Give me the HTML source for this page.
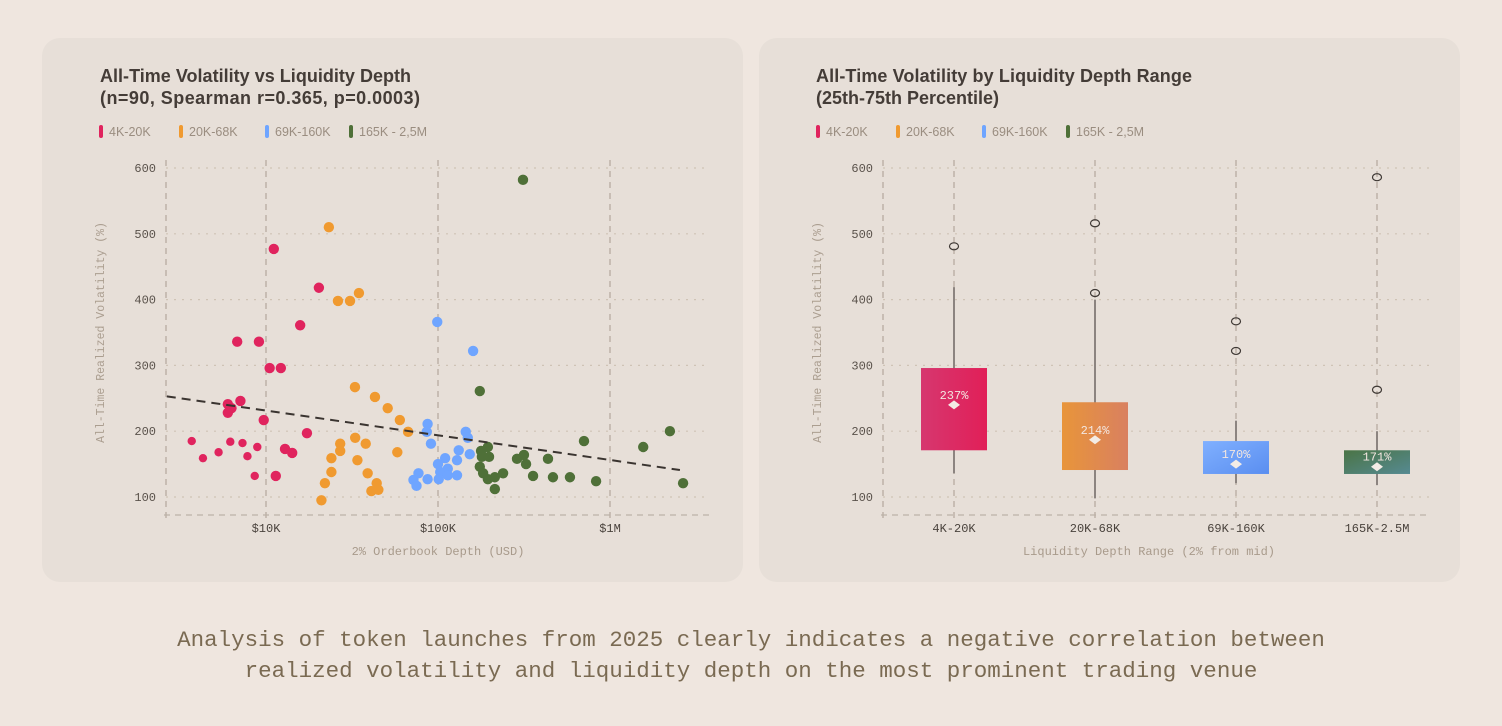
<!DOCTYPE html>
<html><head><meta charset="utf-8">
<style>
html,body{margin:0;padding:0;background:#efe6df;}
svg{display:block;}
text{font-family:"Liberation Sans",sans-serif;}
.mono{font-family:"Liberation Mono",monospace;}
</style></head>
<body>
<svg id="root" width="1502" height="726" viewBox="0 0 1502 726" xmlns="http://www.w3.org/2000/svg">
<defs>
<linearGradient id="g0" x1="0" y1="0" x2="1" y2="0"><stop offset="0" stop-color="#d6376f"/><stop offset="1" stop-color="#e11f58"/></linearGradient>
<linearGradient id="g1" x1="0" y1="0" x2="1" y2="0"><stop offset="0" stop-color="#e8953a"/><stop offset="1" stop-color="#d98060"/></linearGradient>
<linearGradient id="g2" x1="0" y1="0" x2="1" y2="1"><stop offset="0" stop-color="#80b0ff"/><stop offset="1" stop-color="#5a8ef0"/></linearGradient>
<linearGradient id="g3" x1="0" y1="0" x2="1" y2="1"><stop offset="0" stop-color="#4a7445"/><stop offset="1" stop-color="#568a92"/></linearGradient>
</defs>
<rect x="42" y="38" width="701" height="544" rx="18" fill="#e7dfd8"/>
<rect x="759" y="38" width="701" height="544" rx="18" fill="#e7dfd8"/>
<g id="left">
<text x="100" y="82" font-size="18" font-weight="bold" fill="#443c37" textLength="311">All-Time Volatility vs Liquidity Depth</text>
<text x="100" y="104" font-size="18" font-weight="bold" fill="#443c37" textLength="320">(n=90, Spearman r=0.365, p=0.0003)</text>
</g>
<g id="right">
<text x="816" y="82" font-size="18" font-weight="bold" fill="#443c37" textLength="376">All-Time Volatility by Liquidity Depth Range</text>
<text x="816" y="104" font-size="18" font-weight="bold" fill="#443c37">(25th-75th Percentile)</text>
</g>
<text class="mono" x="751" y="646" font-size="22.5" fill="#7a6a52" text-anchor="middle">Analysis of token launches from 2025 clearly indicates a negative correlation between</text>
<text class="mono" x="751" y="677" font-size="22.5" fill="#7a6a52" text-anchor="middle">realized volatility and liquidity depth on the most prominent trading venue</text>
</svg>
<script>
const NS='http://www.w3.org/2000/svg';
const groupNames=['4K-20K','20K-68K','69K-160K','165K - 2,5M'];
const groupColors=['#e0245e','#f09a30','#6fa5ff','#4f7038'];
const redDepthK=[3.7,4.3,5.3,6.2,7.3,7.8,8.9,6.0,6.3,6.0,7.1,9.7,10.5,12.2,6.8,9.1,15.8,20.3,11.1,17.3,12.9,14.2,8.6,11.4];
const redVol=[185,159,168,184,182,162,176,241,235,228,246,217,296,296,336,336,361,418,477,197,173,167,132,132];
const orangeDepthK=[23.2,34.7,26.2,30.8,32.9,43,51,60,67,58,33,38,27,27,24,34,24,39,22,44,41,45,21];
const orangeVol=[510,410,398,398,267,252,235,217,199,168,190,181,181,170,159,156,138,136,121,121,109,111,95];
const blueDepthK=[99,160,87,86,91,145,149,132,153,110,129,100,114,103,129,114,101,87,77,72,75];
const blueVol=[366,322,211,199,181,199,190,171,165,159,156,150,143,138,133,133,127,127,136,126,117];
const greenDepthK=[312,175,706,2230,1560,178,195,180,198,175,183,195,214,239,214,288,316,325,436,357,466,585,830,2660];
const greenVol=[582,261,185,200,176,170,176,161,161,146,136,127,130,136,112,158,164,150,158,132,130,130,124,121];
const trendDepthK=[2.65,2550];
const trendVol=[253,141];
const yTicks=[100,200,300,400,500,600];
const xTickVals=[10000,100000,1000000];
const xTickLabels=['$10K','$100K','$1M'];
const boxCats=['4K-20K','20K-68K','69K-160K','165K-2.5M'];
const boxQ1=[171,141,135,135];
const boxQ3=[296,244,185,171];
const whiskLo=[136,98,121,118];
const whiskHi=[419,400,216,200];
const meanVals=[240,187,150,146];
const meanLabels=['237%','214%','170%','171%'];
const outliers=[[481],[516,410],[367,322],[586,263]];

const root=document.getElementById('root');
function el(tag,attrs,parent,txt){const e=document.createElementNS(NS,tag);for(const k in attrs)e.setAttribute(k,attrs[k]);if(txt!==undefined)e.textContent=txt;(parent||root).appendChild(e);return e;}
const yS=v=>497-(v-100)*0.658;
const xS=d=>266+(Math.log10(d)-4)*172;

function axesY(g,xAxis,x1,x2){
  yTicks.forEach(t=>{
    const l=el('line',{x1:x1,x2:x2,y1:yS(t),y2:yS(t),stroke:'#cfc3b5','stroke-width':1.2,'stroke-dasharray':'2 6'},g);
    
    
    const tx=el('text',{x:xAxis-10,y:yS(t)+4,'font-size':12,fill:'#5a524b','text-anchor':'end',class:'mono'},g,String(t));
    
    
  });
  const a=el('line',{x1:xAxis,x2:xAxis,y1:160,y2:518,stroke:'#bdb2a8','stroke-width':1.5,'stroke-dasharray':'6 5'},g);
  
  
  const b=el('line',{x1:xAxis-2,x2:x2,y1:515,y2:515,stroke:'#bdb2a8','stroke-width':1.2,'stroke-dasharray':'6 5'},g);
  
  
  const yt=el('text',{x:0,y:0,'font-size':11.5,fill:'#ab9e90',class:'mono','text-anchor':'middle',transform:`translate(${xAxis-62},${yS(350)}) rotate(-90)`},g,'All-Time Realized Volatility (%)');
  
  
}
function legend(g,x0){
  const off=[0,80,166,250];
  groupNames.forEach((n,i)=>{
    const r=el('rect',{x:x0+off[i],y:125,width:4,height:13,rx:2,fill:groupColors[i]},g);
    
    
    const t=el('text',{x:x0+off[i]+10,y:136,'font-size':12.5,fill:'#9a8d80'},g,n);
    
    
  });
}
const L=document.getElementById('left');
legend(L,99);
axesY(L,166,166,710);
xTickVals.forEach((v,i)=>{
  const l=el('line',{x1:xS(v),x2:xS(v),y1:160,y2:518,stroke:'#bdb2a8','stroke-width':1.5,'stroke-dasharray':'6 5'},L);
  
  
  const t=el('text',{x:xS(v),y:532,'font-size':12,fill:'#4a433d','text-anchor':'middle',class:'mono'},L,xTickLabels[i]);
  
  
});
const xt=el('text',{x:438,y:555,'font-size':12,fill:'#a89a8b','text-anchor':'middle',class:'mono'},L,'2% Orderbook Depth (USD)');


const series=[[redDepthK,redVol],[orangeDepthK,orangeVol],[blueDepthK,blueVol],[greenDepthK,greenVol]];
series.forEach((s,gi)=>{
  s[0].forEach((d,i)=>{
    const c=el('circle',{cx:xS(d*1000),cy:yS(s[1][i]),r:(gi===0&&d<9&&s[1][i]<200)?4.2:5.2,fill:groupColors[gi]},L);
    
    
  });
});
const tr=el('line',{x1:xS(trendDepthK[0]*1000),y1:yS(trendVol[0]),x2:xS(trendDepthK[1]*1000),y2:yS(trendVol[1]),stroke:'#3a3430','stroke-width':2,'stroke-dasharray':'9 6'},L);



const R=document.getElementById('right');
legend(R,816);
axesY(R,883,883,1430);
const bx=i=>954+i*141;
boxCats.forEach((c,i)=>{
  const x=bx(i);
  const gl=el('line',{x1:x,x2:x,y1:160,y2:518,stroke:'#bdb2a8','stroke-width':1.5,'stroke-dasharray':'6 5'},R);
  
  
  const w=el('line',{x1:x,x2:x,y1:yS(whiskHi[i]),y2:yS(whiskLo[i]),stroke:'#8c8480','stroke-width':2},R);
  
  
  const b=el('rect',{x:x-33,y:yS(boxQ3[i]),width:66,height:yS(boxQ1[i])-yS(boxQ3[i]),fill:`url(#g${i})`},R);
  
  
  const m=meanVals[i],my=yS(m);
  const dm=el('path',{d:`M${x-6} ${my} L${x} ${my-4.5} L${x+6} ${my} L${x} ${my+4.5}Z`,fill:'#f3ece6'},R);
  
  
  const ml=el('text',{x:x,y:my-6,'font-size':12,fill:'#f3e6e0','text-anchor':'middle',class:'mono'},R,meanLabels[i]);
  
  
  outliers[i].forEach(o=>{
    const e=el('ellipse',{cx:x,cy:yS(o),rx:4.5,ry:3.5,fill:'none',stroke:'#3e3834','stroke-width':1.2},R);
    
    
  });
  const t=el('text',{x:x,y:532,'font-size':12,fill:'#4a433d','text-anchor':'middle',class:'mono'},R,c);
  
  
});
const xr=el('text',{x:1149,y:555,'font-size':12,fill:'#a89a8b','text-anchor':'middle',class:'mono'},R,'Liquidity Depth Range (2% from mid)');


</script>
</body></html>
